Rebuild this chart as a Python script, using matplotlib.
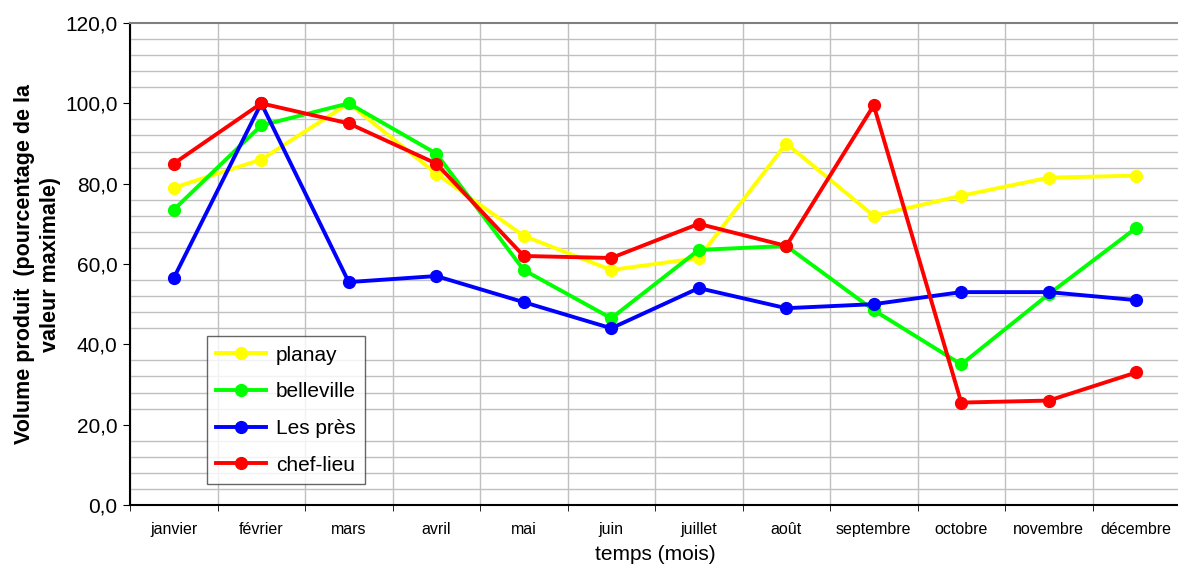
import numpy as np
import matplotlib.pyplot as plt
from matplotlib.ticker import MultipleLocator, FuncFormatter

plt.rcParams['font.family'] = ['Liberation Sans', 'DejaVu Sans']

mois = ["janvier", "février", "mars", "avril", "mai", "juin", "juillet",
        "août", "septembre", "octobre", "novembre", "décembre"]
planay = [79, 86, 100, 82.5, 67, 58.5, 61.5, 90, 72, 77, 81.5, 82]
belleville = [73.5, 94.5, 100, 87.5, 58.5, 46.5, 63.5, 64.5, 48.5, 35, 52.5, 69]
les_pres = [56.5, 100, 55.5, 57, 50.5, 44, 54, 49, 50, 53, 53, 51]
chef_lieu = [85, 100, 95, 85, 62, 61.5, 70, 64.5, 99.5, 25.5, 26, 33]

series = [("planay", planay, "#ffff00"),
          ("belleville", belleville, "#00ff00"),
          ("Les près", les_pres, "#0000ff"),
          ("chef-lieu", chef_lieu, "#ff0000")]

fig = plt.figure(figsize=(11.78, 5.72), dpi=100)
ax = fig.add_axes([130/1178, 1-505/572, 1050/1178, 482/572])

x = np.arange(len(mois))
for name, vals, col in series:
    ax.plot(x, vals, color=col, lw=2.8, marker="o", ms=8.5, label=name, zorder=3)

ax.set_xlim(-0.5, 11.5)
ax.set_ylim(0, 120)
ax.yaxis.set_major_locator(MultipleLocator(20))
ax.yaxis.set_minor_locator(MultipleLocator(4))
ax.yaxis.set_major_formatter(FuncFormatter(lambda v, p: f"{v:.1f}".replace(".", ",")))
ax.set_xticks(x)
ax.set_xticklabels(mois, fontsize=11.5)
ax.set_xticks(np.arange(-0.5, 12, 1), minor=True)
ax.tick_params(axis="x", which="major", length=0, pad=12)
ax.tick_params(axis="x", which="minor", length=4, direction="out")
ax.tick_params(axis="y", which="major", length=5, labelsize=15, pad=4)
ax.tick_params(axis="y", which="minor", length=0)

ax.grid(True, which="minor", axis="both", color="#c0c0c0", lw=1)
ax.set_axisbelow(True)
for s in ["top", "right"]:
    ax.spines[s].set_color("#808080")
    ax.spines[s].set_linewidth(1.5)
for s in ["left", "bottom"]:
    ax.spines[s].set_color("black")
    ax.spines[s].set_linewidth(1.5)

ax.set_xlabel("temps (mois)", fontsize=15, labelpad=6)
ax.set_ylabel("Volume produit  (pourcentage de la\nvaleur maximale)",
              fontsize=15.5, fontweight="bold", labelpad=3, linespacing=1.3)

leg = ax.legend(loc="lower left", bbox_to_anchor=(77/1050, 21/482), fontsize=15,
                frameon=True, fancybox=False, edgecolor="#404040",
                handlelength=2.4, labelspacing=0.85, borderpad=0.45,
                handletextpad=0.45, borderaxespad=0)
leg.get_frame().set_linewidth(1)

fig.savefig("out.png", dpi=100)
